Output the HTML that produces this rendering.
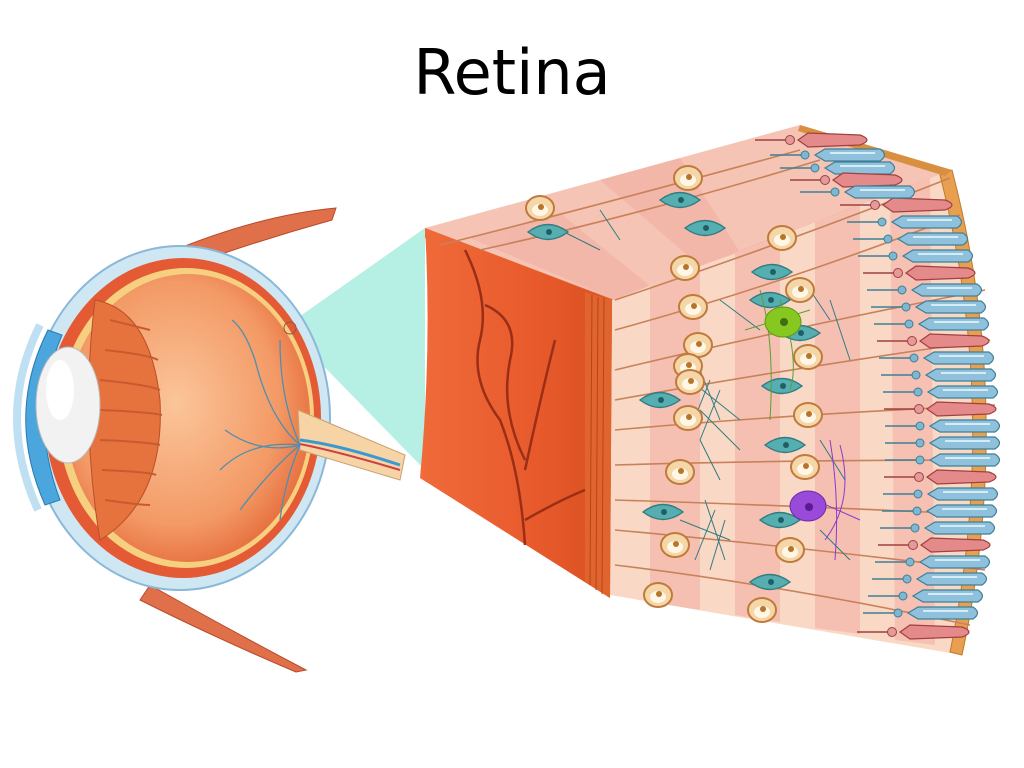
<!DOCTYPE html>
<html><head><meta charset="utf-8"><style>
html,body{margin:0;padding:0;background:#fff;width:1024px;height:768px;overflow:hidden}
svg{display:block}
</style></head><body>
<svg width="1024" height="768" viewBox="0 0 1024 768" xmlns="http://www.w3.org/2000/svg">
<defs>
<g id="rod"><line x1="-75" y1="0" x2="-40" y2="0" stroke="#3f7f96" stroke-width="1.6"/><circle cx="-40" cy="0" r="4" fill="#7fb6d0" stroke="#3f7f96"/><path d="M-30 0 L-20 -6 L35 -6 Q44 0 35 6 L-20 6 Z" fill="#8fc0dc" stroke="#3f7f96" stroke-width="1.2"/><line x1="-15" y1="-2" x2="30" y2="-2" stroke="#d4ecf6" stroke-width="2"/></g>
<g id="cone"><line x1="-75" y1="0" x2="-40" y2="0" stroke="#a04040" stroke-width="1.6"/><circle cx="-40" cy="0" r="4.5" fill="#e49a9a" stroke="#a04040"/><path d="M-32 0 L-22 -7 L30 -5 Q44 0 30 5 L-22 7 Z" fill="#e48a8a" stroke="#a04040" stroke-width="1.2"/></g>
<g id="oc"><ellipse cx="0" cy="0" rx="14" ry="12" fill="#f4d6a8" stroke="#c07a3a" stroke-width="2"/><ellipse cx="0" cy="2" rx="8" ry="6" fill="#fff6e6"/><circle cx="1" cy="-1" r="3" fill="#b8752a"/></g>
<g id="tc"><path d="M-20 0 Q0 -15 20 0 Q0 15 -20 0Z" fill="#57aeb0" stroke="#2f7c82" stroke-width="1.4"/><circle cx="1" cy="0" r="3" fill="#1e5f66"/></g>
<linearGradient id="fr" x1="0" x2="1"><stop offset="0" stop-color="#f06a3a"/><stop offset="0.6" stop-color="#e85a2c"/><stop offset="1" stop-color="#d8501f"/></linearGradient>
<radialGradient id="eg" cx="0.45" cy="0.45" r="0.6"><stop offset="0" stop-color="#fbc59a"/><stop offset="0.7" stop-color="#f39a66"/><stop offset="1" stop-color="#e56a3a"/></radialGradient>
</defs>

<text x="512" y="94" text-anchor="middle" font-family="DejaVu Sans, Liberation Sans, sans-serif" font-size="62" fill="#000">Retina</text>

<path d="M170 252 Q260 215 336 208 L332 220 Q260 240 190 265Z" fill="#e0704a" stroke="#b84a2a"/>
<path d="M150 585 Q230 630 306 670 L296 672 Q220 640 140 600Z" fill="#e0704a" stroke="#b84a2a"/>

<polygon points="286,326 425,228 425,470 300,342" fill="#b6efe4"/>

<ellipse cx="180" cy="418" rx="150" ry="172" fill="#cfe6f3" stroke="#8ab8d8" stroke-width="2"/>
<ellipse cx="183" cy="418" rx="138" ry="160" fill="#e45a34"/>
<ellipse cx="186" cy="418" rx="128" ry="150" fill="#f6d080"/>
<ellipse cx="188" cy="418" rx="122" ry="144" fill="url(#eg)"/>
<path d="M298 410 L405 455 L400 480 L300 450Z" fill="#f6d4a6" stroke="#c9a070"/>
<path d="M300 440 Q340 445 400 465" stroke="#3a9ad0" stroke-width="3" fill="none"/>
<path d="M300 444 Q340 452 400 470" stroke="#d04040" stroke-width="2" fill="none"/>
<path d="M95 300 Q150 310 160 400 Q165 500 100 540 Q80 420 95 300Z" fill="#e6733e" stroke="#b75028"/>
<g stroke="#c85a30" stroke-width="2" fill="none">
<path d="M110 320 Q150 330 150 330"/><path d="M105 350 Q150 355 158 360"/><path d="M100 380 Q150 385 160 390"/><path d="M100 410 Q150 412 162 415"/><path d="M100 440 Q150 442 160 445"/><path d="M102 470 Q150 472 156 475"/><path d="M105 500 Q140 505 150 505"/></g>
<path d="M48 330 Q5 415 45 505 L60 500 Q28 415 62 335Z" fill="#4aa6dc" stroke="#2a7ab0"/>
<path d="M40 325 Q-5 415 38 510" stroke="#bfe0f2" stroke-width="8" fill="none"/>
<ellipse cx="68" cy="405" rx="32" ry="58" fill="#f2f2f2" stroke="#b8b8b8"/>
<ellipse cx="60" cy="390" rx="14" ry="30" fill="#fff"/>
<g stroke="#4f8fb0" stroke-width="1.3" fill="none">
<path d="M300 445 Q270 420 255 360 Q245 330 232 320"/><path d="M300 445 Q280 400 280 340"/><path d="M300 445 Q250 440 220 470"/><path d="M300 445 Q270 470 240 510"/><path d="M300 445 Q260 455 225 430"/><path d="M300 445 Q285 480 280 520"/></g>
<circle cx="290" cy="328" r="6" fill="none" stroke="#8a5a4a"/>

<polygon points="425,228 800,125 952,170 615,300" fill="#f6c4b4"/>
<polygon points="425,228 615,300 612,310 425,238" fill="#e86c3c"/>
<path d="M612 300 L952 170 Q1015 410 962 655 L610 595 Z" fill="#fad8c6"/>
<g fill="#f2aea2" opacity="0.55">
<path d="M650 286 L700 266 L700 610 L650 602Z"/><path d="M735 252 L780 235 L780 622 L735 615Z"/><path d="M815 222 L860 204 L860 634 L815 628Z"/><path d="M890 192 L930 178 L935 645 L895 640Z"/>
<path d="M470 238 L560 213 L650 286 L615 300Z"/><path d="M600 180 L680 158 L740 252 L700 266Z"/>
</g>
<path d="M952 170 Q1015 410 962 655 L950 652 Q1000 410 940 175Z" fill="#e8a050" stroke="#c07a2a"/>
<path d="M800 125 L952 170 L945 176 L798 131Z" fill="#d89040"/>
<path d="M425 228 L612 300 L610 598 L420 478 Q432 350 425 228Z" fill="url(#fr)"/>
<path d="M585 292 L612 300 L610 598 L585 582Z" fill="#e0642e"/>
<g stroke="#b84418" stroke-width="1"><line x1="592" y1="295" x2="590" y2="585"/><line x1="598" y1="297" x2="596" y2="590"/><line x1="604" y1="298" x2="602" y2="594"/></g>
<g stroke="#9a2e16" stroke-width="2.5" fill="none">
<path d="M465 250 Q490 300 480 340 Q470 380 500 420 Q520 470 525 545"/>
<path d="M485 305 Q520 320 510 360 Q500 410 525 460"/>
<path d="M555 340 Q540 400 525 470"/><path d="M525 520 Q560 500 585 490"/></g>

<g stroke="#c8825a" stroke-width="1.6" fill="none">
<path d="M615 300 Q780 245 950 178"/><path d="M615 330 Q780 285 960 215"/><path d="M615 370 Q780 330 985 290"/><path d="M615 400 Q780 370 990 340"/><path d="M615 430 Q780 415 995 405"/><path d="M615 465 Q780 460 995 460"/><path d="M615 500 Q780 505 990 515"/><path d="M615 530 Q780 545 985 570"/><path d="M615 565 Q780 585 970 625"/>
<path d="M440 245 Q600 205 800 150"/><path d="M480 250 Q640 215 820 160"/>
</g>

<use href="#cone" x="915" y="205"/><use href="#rod" x="922" y="222"/><use href="#rod" x="928" y="239"/><use href="#rod" x="933" y="256"/><use href="#cone" x="938" y="273"/><use href="#rod" x="942" y="290"/><use href="#rod" x="946" y="307"/><use href="#rod" x="949" y="324"/><use href="#cone" x="952" y="341"/><use href="#rod" x="954" y="358"/><use href="#rod" x="956" y="375"/><use href="#rod" x="958" y="392"/><use href="#cone" x="959" y="409"/><use href="#rod" x="960" y="426"/><use href="#rod" x="960" y="443"/><use href="#rod" x="960" y="460"/><use href="#cone" x="959" y="477"/><use href="#rod" x="958" y="494"/><use href="#rod" x="957" y="511"/><use href="#rod" x="955" y="528"/><use href="#cone" x="953" y="545"/><use href="#rod" x="950" y="562"/><use href="#rod" x="947" y="579"/><use href="#rod" x="943" y="596"/><use href="#rod" x="938" y="613"/><use href="#cone" x="932" y="632"/>
<use href="#cone" x="830" y="140"/><use href="#rod" x="845" y="155"/><use href="#rod" x="855" y="168"/><use href="#cone" x="865" y="180"/><use href="#rod" x="875" y="192"/>

<g stroke="#2f7c82" stroke-width="1" fill="none">
<path d="M700 370 L720 420 M710 380 L690 430 M720 390 L700 440 M705 500 L725 560 M715 510 L695 560 M725 520 L710 570 M810 290 L830 320 M830 300 L850 360 M820 440 L845 480 M720 300 L760 330 M820 530 L850 560 M690 380 L740 420 M700 410 L740 450 M680 520 L730 540 M700 440 L720 480 M560 230 L600 250 M600 210 L620 240"/></g>

<use href="#oc" x="540" y="208"/><use href="#oc" x="688" y="178"/><use href="#tc" x="548" y="232"/><use href="#tc" x="680" y="200"/><use href="#tc" x="705" y="228"/>
<use href="#oc" x="685" y="268"/><use href="#oc" x="782" y="238"/><use href="#tc" x="772" y="272"/>
<use href="#oc" x="693" y="307"/><use href="#oc" x="800" y="290"/><use href="#tc" x="770" y="300"/>
<use href="#oc" x="698" y="345"/><use href="#tc" x="800" y="333"/>
<use href="#oc" x="688" y="366"/><use href="#oc" x="808" y="357"/>
<use href="#tc" x="660" y="400"/><use href="#oc" x="690" y="382"/><use href="#tc" x="782" y="386"/>
<use href="#oc" x="688" y="418"/><use href="#oc" x="808" y="415"/>
<use href="#tc" x="785" y="445"/><use href="#oc" x="680" y="472"/><use href="#oc" x="805" y="467"/>
<use href="#tc" x="663" y="512"/><use href="#tc" x="780" y="520"/><use href="#oc" x="675" y="545"/><use href="#oc" x="790" y="550"/>
<use href="#tc" x="770" y="582"/><use href="#oc" x="658" y="595"/><use href="#oc" x="762" y="610"/>
<g stroke="#5aa030" stroke-width="1" fill="none"><path d="M760 290 Q775 340 770 420 M780 300 Q800 360 790 390 M745 330 L810 310"/></g>
<ellipse cx="783" cy="322" rx="18" ry="15" fill="#86c820" stroke="#5a9a10"/><circle cx="784" cy="322" r="4" fill="#3f6f10"/>
<g stroke="#8a3ad0" stroke-width="1" fill="none"><path d="M830 440 Q840 500 835 560 M840 445 Q855 500 825 540 M815 500 L860 520"/></g>
<ellipse cx="808" cy="506" rx="18" ry="15" fill="#9a4ad8" stroke="#6a2aa8"/><circle cx="809" cy="507" r="4" fill="#5a1a90"/>
</svg>
</body></html>
